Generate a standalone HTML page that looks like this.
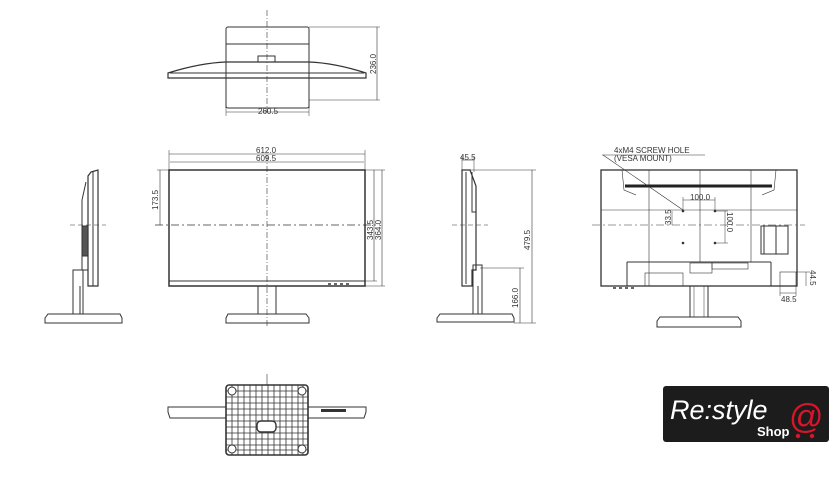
<!DOCTYPE html>
<html><head><meta charset="utf-8"><style>
html,body{margin:0;padding:0;background:#fff;width:840px;height:490px;overflow:hidden}
svg{display:block}
text{font-family:"Liberation Sans",sans-serif;font-size:8px;fill:#333}
</style></head><body>
<svg width="840" height="490" viewBox="0 0 840 490" xmlns="http://www.w3.org/2000/svg">
<g stroke="#333" stroke-width="1" fill="none">
<!-- TOP VIEW -->
<rect x="226" y="27" width="83" height="81" rx="2"/>
<line x1="226" y1="44" x2="309" y2="44"/>
<rect x="258" y="56" width="17" height="8" fill="#fff"/>
<path d="M168 73 Q200 63 226 62 L309 62 Q335 63 366 73 L366 78 L168 78 Z" fill="#fff" stroke-width="1.2"/>
<line x1="170" y1="73" x2="364" y2="73"/>
<line x1="226" y1="62" x2="226" y2="108"/><line x1="309" y1="62" x2="309" y2="108"/>
<line x1="267" y1="10" x2="267" y2="112" stroke-dasharray="6,2,1,2" stroke-width="0.6"/>
<line x1="309" y1="27" x2="380" y2="27" stroke-width="0.5"/>
<line x1="309" y1="100" x2="380" y2="100" stroke-width="0.5"/>
<line x1="377" y1="27" x2="377" y2="100" stroke-width="0.6"/>
<line x1="226" y1="112" x2="309" y2="112" stroke-width="0.6"/>
<line x1="226" y1="108" x2="226" y2="116" stroke-width="0.5"/><line x1="309" y1="108" x2="309" y2="116" stroke-width="0.5"/>

<!-- FRONT VIEW -->
<rect x="169" y="170" width="196" height="116" stroke-width="1.5"/>
<line x1="169" y1="281" x2="365" y2="281"/>
<rect x="258" y="286" width="18" height="28"/>
<path d="M228 314 L306 314 L309 318 L309 323 L226 323 L226 318 Z" fill="#fff"/>
<line x1="267" y1="155" x2="267" y2="326" stroke-dasharray="6,2,1,2" stroke-width="0.6"/>
<line x1="155" y1="225" x2="380" y2="225" stroke-dasharray="8,3,2,3" stroke-width="0.7"/>
<line x1="169" y1="154" x2="365" y2="154" stroke-width="0.6"/>
<line x1="170" y1="162" x2="364" y2="162" stroke-width="0.6"/>
<line x1="169" y1="150" x2="169" y2="170" stroke-width="0.5"/><line x1="365" y1="150" x2="365" y2="170" stroke-width="0.5"/>
<line x1="374" y1="170" x2="374" y2="281" stroke-width="0.6"/>
<line x1="382" y1="170" x2="382" y2="286" stroke-width="0.6"/>
<line x1="365" y1="170" x2="385" y2="170" stroke-width="0.5"/>
<line x1="365" y1="281" x2="377" y2="281" stroke-width="0.5"/>
<line x1="365" y1="286" x2="385" y2="286" stroke-width="0.5"/>
<line x1="160" y1="170" x2="160" y2="225" stroke-width="0.6"/>
<line x1="157" y1="170" x2="169" y2="170" stroke-width="0.5"/>
<g stroke-width="1.5"><line x1="328" y1="284" x2="331" y2="284"/><line x1="334" y1="284" x2="337" y2="284"/><line x1="340" y1="284" x2="343" y2="284"/><line x1="346" y1="284" x2="349" y2="284"/></g>

<!-- LEFT SIDE VIEW -->
<path d="M91 172 L98 170 L98 286 L88 286 L88 176 Z" stroke-width="1.2"/>
<line x1="93" y1="172" x2="93" y2="286"/>
<path d="M86 182 L82 200 L82 270 L88 270"/>
<rect x="82" y="226" width="6" height="30" fill="#555"/>
<rect x="73" y="270" width="10" height="45"/>
<line x1="80" y1="286" x2="80" y2="315"/>
<path d="M48 314 L120 314 L122 318 L122 323 L45 323 L45 318 Z" fill="#fff"/>
<line x1="70" y1="225" x2="106" y2="225" stroke-dasharray="5,3" stroke-width="0.6"/>

<!-- RIGHT SIDE VIEW -->
<path d="M462 170 L470 170 L476 186 L476 270 L472 270 L472 286 L462 286 Z" stroke-width="1.2"/>
<line x1="466" y1="172" x2="466" y2="284"/>
<path d="M472 172 L472 212 L476 212"/>
<rect x="473" y="265" width="9" height="53"/>
<line x1="478" y1="286" x2="478" y2="318"/>
<path d="M440 314 L512 314 L514 318 L514 322 L437 322 L437 318 Z" fill="#fff"/>
<line x1="452" y1="225" x2="488" y2="225" stroke-dasharray="5,3" stroke-width="0.6"/>
<line x1="462" y1="160" x2="474" y2="160" stroke-width="0.6"/>
<line x1="462" y1="156" x2="462" y2="170" stroke-width="0.5"/><line x1="474" y1="156" x2="474" y2="172" stroke-width="0.5"/>
<line x1="470" y1="170" x2="536" y2="170" stroke-width="0.5"/>
<line x1="532" y1="170" x2="532" y2="323" stroke-width="0.6"/>
<line x1="480" y1="268" x2="524" y2="268" stroke-width="0.5"/>
<line x1="520" y1="268" x2="520" y2="323" stroke-width="0.6"/>
<line x1="514" y1="323" x2="536" y2="323" stroke-width="0.5"/>

<!-- BACK VIEW -->
<rect x="601" y="170" width="196" height="116" stroke-width="1.3"/>
<path d="M601 170 L622 170 L624 190 L636 195" stroke-width="0.6"/>
<path d="M797 170 L776 170 L774 190 L762 195" stroke-width="0.6"/>
<line x1="649" y1="170" x2="649" y2="286" stroke-width="0.6"/>
<line x1="700" y1="170" x2="700" y2="262" stroke-width="0.6"/>
<line x1="751" y1="170" x2="751" y2="262" stroke-width="0.6"/>
<line x1="601" y1="210" x2="797" y2="210" stroke-width="0.6"/>
<line x1="625" y1="186" x2="772" y2="186" stroke="#222" stroke-width="3"/>
<line x1="592" y1="225" x2="805" y2="225" stroke-dasharray="8,3,2,3" stroke-width="0.6"/>
<line x1="603" y1="155" x2="683" y2="210" stroke-width="0.6"/>
<line x1="602" y1="155" x2="705" y2="155" stroke-width="0.6"/>
<line x1="683" y1="200" x2="715" y2="200" stroke-width="0.5"/>
<line x1="683" y1="197" x2="683" y2="211" stroke-width="0.5"/><line x1="715" y1="197" x2="715" y2="211" stroke-width="0.5"/>
<line x1="672" y1="211" x2="672" y2="225" stroke-width="0.5"/>
<line x1="725" y1="211" x2="725" y2="243" stroke-width="0.5"/>
<line x1="715" y1="211" x2="728" y2="211" stroke-width="0.5"/><line x1="715" y1="243" x2="728" y2="243" stroke-width="0.5"/>
<rect x="761" y="226" width="27" height="28" stroke-width="1"/>
<line x1="764" y1="226" x2="764" y2="254"/><line x1="776" y1="226" x2="776" y2="254"/>
<line x1="627" y1="262" x2="771" y2="262"/>
<line x1="627" y1="262" x2="627" y2="286"/><line x1="771" y1="262" x2="771" y2="286"/>
<rect x="645" y="273" width="38" height="13" stroke-width="0.6"/>
<rect x="690" y="263" width="22" height="10" stroke-width="0.6"/>
<rect x="712" y="263" width="36" height="6" stroke-width="0.6"/>
<rect x="690" y="286" width="18" height="31"/>
<line x1="694" y1="286" x2="694" y2="317" stroke-width="0.5"/><line x1="704" y1="286" x2="704" y2="317" stroke-width="0.5"/>
<path d="M660 317 L738 317 L741 321 L741 327 L657 327 L657 321 Z" fill="#fff"/>
<rect x="780" y="272" width="16" height="14" stroke-width="0.6"/>
<line x1="796" y1="272" x2="810" y2="272" stroke-width="0.5"/>
<line x1="806" y1="272" x2="806" y2="286" stroke-width="0.5"/>
<line x1="780" y1="286" x2="780" y2="296" stroke-width="0.5"/><line x1="796" y1="286" x2="796" y2="296" stroke-width="0.5"/>
<line x1="780" y1="293" x2="796" y2="293" stroke-width="0.5"/>
<g stroke-width="1.5"><line x1="613" y1="288" x2="616" y2="288"/><line x1="619" y1="288" x2="622" y2="288"/><line x1="625" y1="288" x2="628" y2="288"/><line x1="631" y1="288" x2="634" y2="288"/></g>

<!-- BOTTOM VIEW -->
<path d="M168 407 L226 407 L226 418 L170 418 L168 412 Z" fill="#fff"/>
<path d="M308 407 L366 407 L366 412 L364 418 L308 418 Z" fill="#fff"/>
<line x1="267" y1="374" x2="267" y2="385" stroke-width="0.6"/>
<rect x="226" y="385" width="82" height="70" rx="3" stroke-width="1.6"/>
<g stroke-width="0.8">
<line x1="232" y1="385" x2="232" y2="455"/><line x1="238" y1="385" x2="238" y2="455"/><line x1="244" y1="385" x2="244" y2="455"/><line x1="250" y1="385" x2="250" y2="455"/><line x1="256" y1="385" x2="256" y2="455"/><line x1="262" y1="385" x2="262" y2="455"/><line x1="268" y1="385" x2="268" y2="455"/><line x1="274" y1="385" x2="274" y2="455"/><line x1="280" y1="385" x2="280" y2="455"/><line x1="286" y1="385" x2="286" y2="455"/><line x1="292" y1="385" x2="292" y2="455"/><line x1="298" y1="385" x2="298" y2="455"/><line x1="303" y1="385" x2="303" y2="455"/>
<line x1="226" y1="391" x2="308" y2="391"/><line x1="226" y1="397" x2="308" y2="397"/><line x1="226" y1="403" x2="308" y2="403"/><line x1="226" y1="409" x2="308" y2="409"/><line x1="226" y1="415" x2="308" y2="415"/><line x1="226" y1="421" x2="308" y2="421"/><line x1="226" y1="427" x2="308" y2="427"/><line x1="226" y1="433" x2="308" y2="433"/><line x1="226" y1="439" x2="308" y2="439"/><line x1="226" y1="445" x2="308" y2="445"/><line x1="226" y1="450" x2="308" y2="450"/>
</g>
<circle cx="232" cy="391" r="4" fill="#fff"/><circle cx="302" cy="391" r="4" fill="#fff"/>
<circle cx="232" cy="449" r="4" fill="#fff"/><circle cx="302" cy="449" r="4" fill="#fff"/>
<rect x="257" y="421" width="19" height="11" rx="4" fill="#fff" stroke-width="1.4"/>
</g>
<g fill="#333">
<circle cx="683" cy="211" r="1.3"/><circle cx="715" cy="211" r="1.3"/><circle cx="683" cy="243" r="1.3"/><circle cx="715" cy="243" r="1.3"/>
<rect x="321" y="409" width="25" height="3"/>
</g>
<text x="258" y="114" font-size="8">260.5</text>
<text x="0" y="0" transform="translate(376,74) rotate(-90)">236.0</text>
<text x="256" y="153">612.0</text>
<text x="256" y="161">609.5</text>
<text x="0" y="0" transform="translate(373,240) rotate(-90)">343.5</text>
<text x="0" y="0" transform="translate(381,240) rotate(-90)">364.0</text>
<text x="0" y="0" transform="translate(158,210) rotate(-90)">173.5</text>
<text x="460" y="160">45.5</text>
<text x="0" y="0" transform="translate(530,250) rotate(-90)">479.5</text>
<text x="0" y="0" transform="translate(518,308) rotate(-90)">166.0</text>
<text x="614" y="153">4xM4 SCREW HOLE</text>
<text x="614" y="161">(VESA MOUNT)</text>
<text x="690" y="200">100.0</text>
<text x="0" y="0" transform="translate(671,225) rotate(-90)">33.5</text>
<text x="0" y="0" transform="translate(727,212) rotate(90)">100.0</text>
<text x="0" y="0" transform="translate(810,270) rotate(90)">44.5</text>
<text x="781" y="302">48.5</text>
<rect x="663" y="386" width="166" height="56" rx="3" fill="#1c1c1c"/>
<text x="670" y="419" style="font-size:27px;font-style:italic;fill:#fff">Re:style</text>
<text x="757" y="436" style="font-size:13px;font-weight:bold;fill:#fff">Shop</text>
<text x="789" y="428" style="font-size:34px;fill:#d8152a">@</text>
<circle cx="798" cy="436" r="2.2" fill="#d8152a"/><circle cx="812" cy="436" r="2.2" fill="#d8152a"/>
</svg>
</body></html>
